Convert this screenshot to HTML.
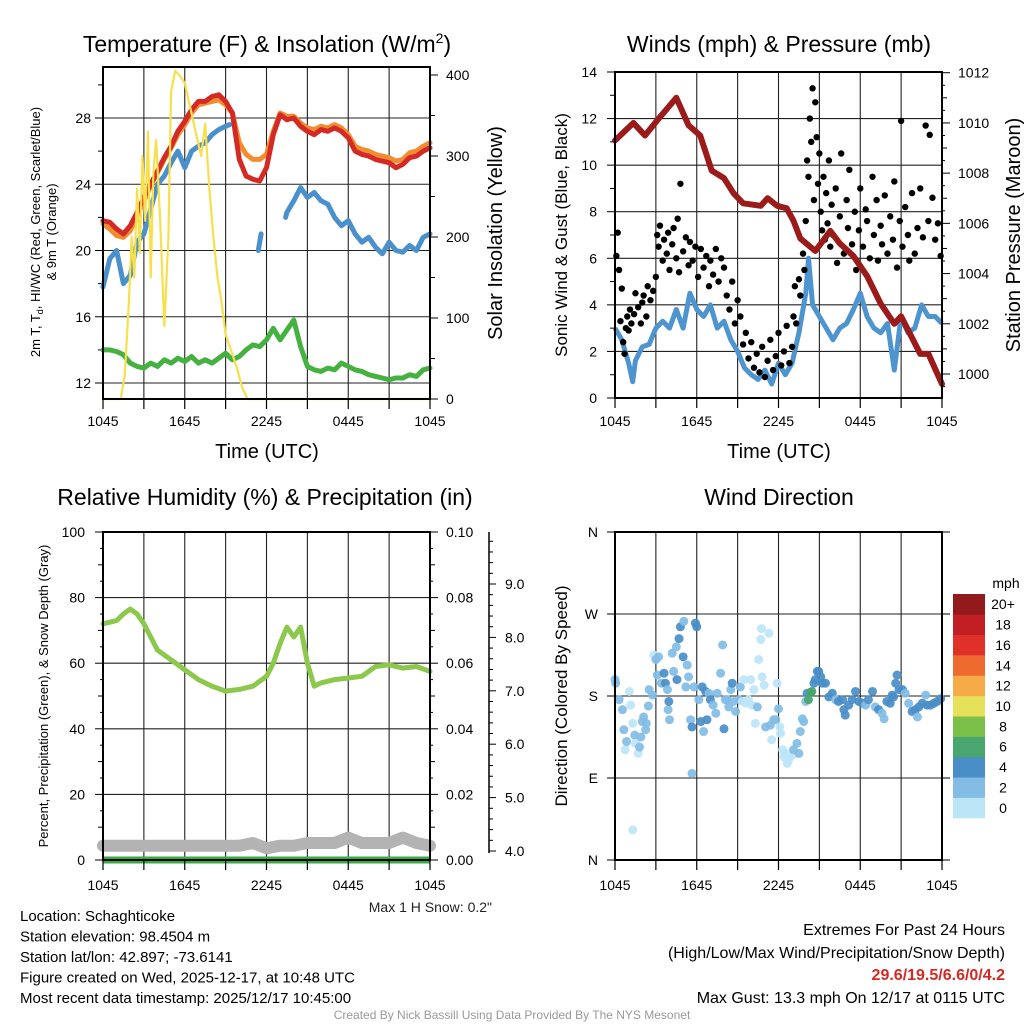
<!DOCTYPE html>
<html><head><meta charset="utf-8">
<style>
html,body{margin:0;padding:0;background:#fff;}
svg{display:block;font-family:"Liberation Sans",sans-serif;}
</style></head>
<body>
<svg id="c" width="1024" height="1024" viewBox="0 0 1024 1024" xmlns="http://www.w3.org/2000/svg"></svg>
<script>
// ---------- DATA ----------
const xTickLabels = ["1045","1645","2245","0445","1045"];
const tempHours = [0,0.5,1,1.5,2,2.5,3,3.5,4,4.5,5,5.5,6,6.5,7,7.5,8,8.5,9,9.5,10,10.5,11,11.5,12,12.5,13,13.5,14,14.5,15,15.5,16,16.5,17,17.5,18,18.5,19,19.5,20,20.5,21,21.5,22,22.5,23,23.5,24];
const tempRed = [21.8,21.7,21.3,21.0,21.5,22.3,23.2,24.0,24.8,25.6,26.3,27.2,27.8,28.5,29.0,29.0,29.3,29.4,29.0,28.3,25.5,24.5,24.3,24.2,25.0,27.0,28.2,27.9,28.0,27.5,27.2,27.0,27.3,27.2,27.4,27.2,26.8,26.0,25.8,25.7,25.5,25.4,25.3,25.0,25.2,25.6,25.7,26.0,26.2];
const tempOrange = [21.6,21.3,20.9,20.8,21.2,22.1,23.0,23.9,24.7,25.5,26.2,27.0,27.6,28.3,28.8,28.9,29.0,29.1,28.8,28.3,26.5,25.8,25.5,25.5,25.8,27.2,28.3,28.1,28.1,27.7,27.4,27.3,27.5,27.4,27.6,27.4,27.0,26.3,26.1,26.0,25.8,25.7,25.6,25.4,25.5,25.9,26.0,26.3,26.5];
const tempGreen = [14.0,14.0,13.9,13.7,13.2,13.0,12.9,13.2,13.0,13.4,13.2,13.5,13.3,13.6,13.2,13.4,13.2,13.5,13.8,13.4,13.6,14.0,14.3,14.2,14.6,15.3,14.6,15.2,15.8,14.2,13.0,12.8,12.7,12.9,12.8,13.2,13.0,12.8,12.7,12.5,12.4,12.3,12.2,12.3,12.3,12.5,12.4,12.8,12.9];
const blueHours = [0,0.5,1,1.5,2,2.5,3,3.5,4,4.5,5,5.5,6,6.5,7,7.5,8,8.5,9,9.3,null,11.4,11.6,null,13.4,13.5,14,14.5,15,15.5,16,16.5,17,17.5,18,18.5,19,19.5,20,20.5,21,21.5,22,22.5,23,23.5,24];
const blueVals = [17.8,19.5,20.0,18.0,18.5,20.5,21.0,22.5,24.0,24.5,25.3,26.0,25.0,26.0,26.3,26.5,27.0,27.3,27.5,27.6,null,20.0,21.0,null,22.0,22.3,23.0,23.8,23.2,23.5,23.0,22.8,22.0,21.5,21.8,21.0,20.5,20.8,20.2,19.8,20.5,20.0,19.9,20.3,20.0,20.8,21.0];
const solarHours = [0,1.3,1.6,1.9,2.1,2.3,2.5,2.7,2.9,3.1,3.3,3.5,3.7,3.9,4.2,4.5,4.8,5.0,5.3,5.6,6.0,6.4,6.8,7.2,7.5,7.8,8.1,8.4,8.7,9.0,9.4,9.8,10.2,10.6,24];
const solarVals = [0,0,30,120,200,150,260,180,300,220,330,150,280,320,220,90,200,380,405,400,390,360,330,300,340,260,200,150,120,80,60,40,15,0,0];

const windHours = [0,0.5,1,1.3,1.5,2,2.5,3,3.5,4,4.5,5,5.5,6,6.5,7,7.5,8,8.5,9,9.5,10,10.5,11,11.5,12,12.5,13,13.5,14,14.2,14.5,15,15.5,16,16.5,17,17.5,18,18.5,19,19.5,20,20.5,21,21.5,22,22.5,23,23.5,24];
const windVals = [3.0,2.5,1.5,0.7,1.6,2.2,2.3,3.0,3.3,3.0,3.8,3.0,4.5,3.8,3.5,4.0,3.0,3.3,2.5,2.0,1.3,1.0,0.8,1.2,0.6,1.5,1.0,1.5,2.8,4.5,6.0,4.0,3.5,3.0,2.5,3.0,3.2,3.8,4.5,3.5,3.0,2.8,3.2,1.2,3.5,2.8,3.0,4.0,3.5,3.5,3.2];
const gustHours = [
 0.1,0.2,0.3,0.4,0.5,0.6,0.7,0.8,0.9,1.0,
 1.1,1.2,1.4,1.5,1.7,1.9,2.0,2.1,2.3,2.4,
 2.6,2.8,3.0,3.1,3.2,3.3,3.5,3.6,3.8,3.9,
 4.0,4.2,4.3,4.5,4.6,4.7,4.8,5.0,5.2,5.4,
 5.5,5.7,5.9,6.1,6.3,6.5,6.7,6.9,7.0,7.2,
 7.4,7.6,7.8,8.0,8.2,8.4,8.6,8.8,9.0,9.2,
 9.4,9.6,9.8,10.0,10.2,10.4,10.6,10.8,11.0,11.2,
 11.4,11.6,11.8,12.0,12.2,12.4,12.6,12.8,13.0,13.1,
 13.2,13.3,13.5,13.6,13.8,13.9,14.0,14.1,14.2,14.3,
 14.4,14.5,14.6,14.7,14.8,14.9,15.0,15.1,15.2,15.3,
 15.4,15.5,15.6,15.7,15.8,15.9,16.0,16.2,16.3,16.5,
 16.6,16.8,17.0,17.1,17.2,17.4,17.6,17.7,17.9,18.0,
 18.2,18.4,18.5,18.7,18.9,19.0,19.2,19.3,19.5,19.6,
 19.8,20.0,20.2,20.4,20.5,20.7,20.9,21.0,21.1,21.3,
 21.5,21.6,21.8,22.0,22.2,22.4,22.6,22.8,23.0,23.1,
 23.3,23.5,23.7,23.9];
const gustVals = [
 6.1,7.1,5.5,3.3,4.7,2.4,1.9,3.0,3.5,2.9,
 3.8,3.2,3.6,4.5,3.9,3.2,4.1,4.4,3.5,4.8,
 4.2,4.6,5.2,7.0,6.5,7.4,5.9,6.8,6.2,7.1,
 5.5,6.6,7.3,6.0,7.7,5.4,9.2,6.3,6.9,5.7,
 6.7,5.9,6.5,5.2,6.4,5.6,6.1,4.8,5.9,5.3,
 6.4,5.0,6.0,5.6,4.4,3.8,5.0,3.2,4.2,3.5,
 2.3,2.8,1.7,2.4,1.3,1.9,1.1,2.2,0.9,1.6,
 2.5,1.2,1.8,2.8,1.4,2.0,3.1,1.5,2.2,3.5,
 4.8,3.2,5.1,4.4,6.2,5.5,7.6,10.2,9.5,12.0,
 11.0,13.3,8.5,12.7,11.2,9.2,10.5,8.0,7.2,9.5,
 6.8,8.8,7.5,10.2,6.5,8.3,7.0,9.0,5.8,7.8,
 10.5,6.2,8.5,7.3,9.8,6.6,8.0,5.5,7.2,9.0,
 6.5,8.1,7.6,6.0,9.5,7.0,8.5,5.9,7.4,6.6,
 8.7,6.2,7.8,6.8,9.3,5.6,7.6,11.9,6.5,8.2,
 7.0,5.9,8.8,6.2,7.3,9.0,6.9,11.7,7.6,11.3,
 8.6,6.8,7.5,6.1];
const presHours = [0,1.35,2.2,3.1,4.5,5.4,6.25,7.1,8.0,8.7,9.4,10.7,11.2,11.9,12.6,13.1,13.6,14.7,15.8,16.5,17.5,18.5,19.5,20.5,21.0,22.4,23.0,24];
const presVals = [1009.3,1010.0,1009.5,1010.1,1011.0,1009.9,1009.5,1008.1,1007.8,1007.2,1006.8,1006.7,1007.0,1006.7,1006.6,1006.1,1005.4,1004.9,1005.7,1005.2,1004.7,1003.9,1002.8,1002.0,1002.3,1000.8,1000.8,999.6];

const rhHours = [0,1,1.5,2,2.5,3,3.5,4,5,6,7,8,9,10,11,12,12.5,13,13.5,14,14.5,15,15.5,16,17,18,19,20,21,22,23,24];
const rhVals = [72,73,75,76.5,75,72,68,64,61,58,55,53,51.5,52,53,56,60,66,71,68,71,60,53,54,55,55.5,56,59,59.5,58.5,59,57.5];
const precipHours = [0,24];
const precipVals = [0,0];
const snowHours = [0,1,2,3,4,5,6,7,8,9,10,11,12,13,14,15,16,17,18,19,20,21,22,23,24];
const snowVals = [4.1,4.1,4.1,4.1,4.1,4.1,4.1,4.1,4.1,4.1,4.1,4.15,4.05,4.1,4.1,4.15,4.15,4.15,4.25,4.15,4.15,4.15,4.25,4.15,4.1];

const dirHours = [
 0.0,0.05,0.3,0.55,0.65,0.75,0.85,1.05,1.15,1.3,
 1.45,1.5,1.7,1.8,1.9,2.0,2.1,2.25,2.3,2.45,
 2.5,2.75,2.85,3.0,3.1,3.2,3.4,3.6,3.7,3.85,
 3.9,3.95,4.0,4.2,4.3,4.5,4.55,4.7,4.8,5.0,
 5.05,5.2,5.3,5.4,5.55,5.65,5.8,5.9,6.0,6.15,
 6.3,6.4,6.5,6.65,6.75,6.9,7.0,7.2,7.4,7.5,
 7.75,7.9,8.0,8.1,8.25,8.35,8.5,8.6,8.7,8.85,
 9.1,9.2,9.35,9.45,9.6,9.8,9.95,10.05,10.2,10.3,
 10.45,10.55,10.7,10.75,10.8,10.95,11.05,11.3,11.4,11.5,
 11.65,11.8,11.9,12.0,12.1,12.15,12.3,12.4,12.5,12.65,
 12.75,13.0,13.1,13.35,13.5,13.6,13.75,13.85,14.0,14.1,
 14.2,14.35,14.45,14.6,14.7,14.85,14.95,15.1,15.2,15.45,
 15.7,15.95,16.2,16.4,16.7,16.8,16.9,17.15,17.4,17.65,
 17.9,18.15,18.4,18.6,18.9,19.1,19.35,19.6,19.75,19.95,
 20.2,20.35,20.45,20.6,20.7,20.85,21.1,21.3,21.55,21.8,
 22.05,22.2,22.3,22.55,22.8,22.9,23.15,23.4,23.65,23.9,
 5.65,1.3];
const dirVals = [
 198,194,176,165,143,121,130,185,170,150,
 137,128,117,124,135,152,157,143,150,169,
 187,181,225,220,203,223,194,205,194,187,
 165,174,154,227,207,234,198,243,256,223,
 262,190,214,201,154,146,190,260,256,176,
 152,190,141,185,154,183,176,170,161,183,
 205,236,144,176,176,168,187,194,174,163,
 176,190,174,198,172,176,198,170,187,150,
 168,220,242,254,201,192,146,249,148,132,
 154,154,194,166,146,139,121,113,117,106,
 110,115,121,128,117,141,155,152,174,183,
 176,184,185,194,198,207,207,201,194,194,
 179,183,176,174,176,165,159,170,176,185,
 174,172,170,176,185,168,165,161,155,174,
 172,181,179,194,203,187,187,183,172,163,
 165,157,168,172,181,170,170,172,174,177,
 95,33];
const dirSpeeds = [
 2.5,2.5,2.5,2.5,2.5,1,2.5,1,1,1,
 2.5,1,1,2.5,2.5,2.5,2.5,2.5,2.5,2.5,
 2.5,2.5,1,2.5,2.5,2.5,2.5,4.5,4.5,2.5,
 2.5,4.5,2.5,2.5,2.5,2.5,4.5,4.5,4.5,4.5,
 2.5,2.5,2.5,2.5,2.5,4.5,2.5,4.5,4.5,2.5,
 4.5,4.5,2.5,4.5,4.5,2.5,4.5,2.5,2.5,2.5,
 2.5,2.5,4.5,2.5,2.5,2.5,2.5,4.5,2.5,2.5,
 2.5,2.5,1,1,1,1,1,1,1,1,
 2.5,1,1,1,1,1,2.5,1,2.5,1,
 2.5,2.5,1,2.5,1,1,1,1,1,1,
 1,1,2.5,2.5,2.5,2.5,2.5,2.5,2.5,4.5,
 6.5,6.5,6.5,4.5,4.5,4.5,4.5,4.5,4.5,4.5,
 4.5,4.5,2.5,4.5,4.5,4.5,4.5,4.5,4.5,4.5,
 4.5,4.5,2.5,4.5,4.5,2.5,4.5,2.5,2.5,4.5,
 4.5,4.5,4.5,4.5,4.5,4.5,4.5,2.5,2.5,4.5,
 4.5,2.5,4.5,4.5,2.5,4.5,4.5,4.5,4.5,4.5,
 2.5,1];
const cbLabels = ["0","2","4","6","8","10","12","14","16","18","20+"];
const cbColors = ["#bde5f8","#83bde6","#4a8ec8","#48a66e","#7cc049","#e6e05a","#f6aa48","#ef6a2e","#df3029","#c21f25","#921a1d"];

// ---------- HELPERS ----------
const svg = document.getElementById('c');
const NS = 'http://www.w3.org/2000/svg';
function el(tag, attrs, parent){const e=document.createElementNS(NS,tag);for(const k in attrs)e.setAttribute(k,attrs[k]);(parent||svg).appendChild(e);return e;}
function txt(x,y,s,size,anchor,extra){const t=el('text',Object.assign({x:x,y:y,'font-size':size,'text-anchor':anchor||'middle',fill:'#000'},extra||{}));t.textContent=s;return t;}
function lin(a,b,c,d,col,w){return el('line',{x1:a,y1:b,x2:c,y2:d,stroke:col||'#000','stroke-width':w||1});}
function linear(d0,d1,r0,r1){return v=>r0+(v-d0)/(d1-d0)*(r1-r0);}
function pathD(xs,ys,fx,fy){let d='',pen=false;const n=Math.min(xs.length,ys.length);for(let i=0;i<n;i++){if(xs[i]==null||ys[i]==null){pen=false;continue;}d+=(pen?'L':'M')+fx(xs[i]).toFixed(1)+','+fy(ys[i]).toFixed(1);pen=true;}return d;}

function xaxis(L,R,B,g,labelY){
  const fx=linear(0,24,L,R);
  for(let h=0;h<=24;h+=3){lin(fx(h),B,fx(h),B+10,'#000',1.2);}
  xTickLabels.forEach((s,i)=>{const t=txt(fx(i*6),labelY,s,14);
    
    });
  return fx;
}
function vgrid(L,R,T,B){const fx=linear(0,24,L,R);for(let h=3;h<24;h+=3){const l=lin(fx(h),T,fx(h),B,'#222',1.1);}}

// ================= PANEL 1: TEMPERATURE =================
{
  const L=103,R=430,T=67,B=399;
  const fx=linear(0,24,L,R), fy=linear(12,28,383,118), fs=linear(0,400,399,75);
  vgrid(L,R,T,B);
  for(let v=12;v<=28;v+=4){const l=lin(L,fy(v),R,fy(v),'#222',1.1);}
  for(let v=12;v<=30;v+=2){lin(L-(v%4==0?8:5),fy(v),L,fy(v),'#000',1);}
  for(let v=12;v<=28;v+=4){const t=txt(L-12,fy(v)+5,String(v),14,'end');}
  for(let v=0;v<=400;v+=50){lin(R,fs(v),R+(v%100==0?8:5),fs(v),'#000',1);}
  for(let v=0;v<=400;v+=100){const t=txt(R+16,fs(v)+5,String(v),14,'start');}
  const series=[[tempHours,tempGreen,'#45b140','temp-dewpoint-line',5],[blueHours,blueVals,'#4a90cc','temp-windchill-line',5],[tempHours,tempOrange,'#f28c30','temp-9m-line',5],[tempHours,tempRed,'#d42a26','temp-2m-line',5],[solarHours,solarVals,'#f7e04c','solar-line',2.2]];
  series.forEach(s=>{const fyy=s[3]=='solar-line'?fs:fy;const p=el('path',{d:pathD(s[0],s[1],fx,fyy),fill:'none',stroke:s[2],'stroke-width':s[4],'stroke-linejoin':'round','stroke-linecap':'round'});
    });
  el('rect',{x:L,y:T,width:R-L,height:B-T,fill:'none',stroke:'#000','stroke-width':2});
  xaxis(L,R,B,null,426);
  const t1=txt(267,52,'Temperature (F) & Insolation (W/m',23);const ts=el('tspan',{dy:-9,'font-size':14},t1);ts.textContent='2';const ts2=el('tspan',{dy:9},t1);ts2.textContent=')';
  
  const xl=txt(267,458,'Time (UTC)',20);
  const yl=el('text',{transform:'translate(40,232) rotate(-90)','font-size':13,'text-anchor':'middle'});
  yl.innerHTML='2m T, T<tspan font-size="9" dy="3">d</tspan><tspan dy="-3">, HI/WC (Red, Green, Scarlet/Blue)</tspan>';
  
  const yl2=txt(0,0,'& 9m T (Orange)',13,'middle',{transform:'translate(56,232) rotate(-90)'});
  
  const yr=txt(0,0,'Solar Insolation (Yellow)',20,'middle',{transform:'translate(502,233) rotate(-90)'});
  
}

// ================= PANEL 2: WINDS =================
{
  const L=615,R=942,T=72,B=398;
  const fx=linear(0,24,L,R), fy=linear(0,14,398,72), fp=linear(1000,1012,374,72.7);
  vgrid(L,R,T,B);
  for(let v=2;v<14;v+=2){const l=lin(L,fy(v),R,fy(v),'#222',1.1);}
  for(let v=0;v<=14;v+=1){lin(L-(v%2==0?8:5),fy(v),L,fy(v),'#000',1);}
  for(let v=0;v<=14;v+=2){const t=txt(L-18,fy(v)+5,String(v),14,'end');}
  for(let v=999.5;v<=1012;v+=0.5){if(fp(v)>B)continue;lin(R,fp(v),R+(v%2==0?8:(v%1==0?5:3)),fp(v),'#000',1);}
  for(let v=1000;v<=1012;v+=2){const t=txt(R+16,fp(v)+5,String(v),14,'start');}
  const wl=el('path',{d:pathD(windHours,windVals,fx,fy),fill:'none',stroke:'#4e95d0','stroke-width':5,'stroke-linejoin':'round'});
  
  const gg=el('g',{});
  const ng=Math.min(gustHours.length,gustVals.length);
  for(let i=0;i<ng;i++){const c=el('circle',{cx:fx(gustHours[i]),cy:fy(gustVals[i]),r:3.2,fill:'#000'},gg);
    }
  const pl=el('path',{d:pathD(presHours,presVals,fx,fp),fill:'none',stroke:'#9b1b1b','stroke-width':6,'stroke-linejoin':'round','stroke-linecap':'round'});
  
  el('rect',{x:L,y:T,width:R-L,height:B-T,fill:'none',stroke:'#000','stroke-width':2});
  xaxis(L,R,B,null,426);
  const t=txt(779,52,'Winds (mph) & Pressure (mb)',23);
  const xl=txt(779,458,'Time (UTC)',20);
  const yl=txt(0,0,'Sonic Wind & Gust (Blue, Black)',17,'middle',{transform:'translate(567,235) rotate(-90)'});
  const yr=txt(0,0,'Station Pressure (Maroon)',20,'middle',{transform:'translate(1020,235) rotate(-90)'});
}

// ================= PANEL 3: RH =================
{
  const L=103,R=430,T=532,B=860;
  const fx=linear(0,24,L,R), fy=linear(0,100,860,532), fpr=linear(0,0.1,860,532), fsn=linear(4,9,851,584);
  vgrid(L,R,T,B);
  for(let v=20;v<100;v+=20){const l=lin(L,fy(v),R,fy(v),'#222',1.1);}
  for(let v=0;v<=100;v+=5){lin(L-(v%20==0?8:(v%10==0?5:3)),fy(v),L,fy(v),'#000',1);}
  for(let v=0;v<=100;v+=20){const t=txt(L-18,fy(v)+5,String(v),14,'end');}
  for(let v=0;v<=0.1001;v+=0.005){const m=Math.round(v*1000);lin(R,fpr(v),R+(m%20==0?8:(m%10==0?5:3)),fpr(v),'#000',1);}
  for(let v=0;v<=0.1001;v+=0.02){const t=txt(R+16,fpr(v)+5,v.toFixed(2),14,'start');}
  lin(489,532,489,853,'#000',1.5);
  for(let v=3.8;v<=9.81;v+=0.2){const m=Math.round(v*10);const y=fsn(v);if(y<532||y>853)continue;lin(489,y,489+(m%10==0?7:4),y,'#000',1);}
  for(let v=4;v<=9;v++){const t=txt(505,fsn(v)+5,v.toFixed(1),14,'start');}
  const sn=el('path',{d:pathD(snowHours,snowVals,fx,fsn),fill:'none',stroke:'#b3b3b3','stroke-width':12,'stroke-linejoin':'round','stroke-linecap':'round'});
  
  const pr=el('path',{d:pathD(precipHours,precipVals,fx,fpr),fill:'none',stroke:'#3aaa45','stroke-width':7});
  
  const rh=el('path',{d:pathD(rhHours,rhVals,fx,fy),fill:'none',stroke:'#8cc84b','stroke-width':5,'stroke-linejoin':'round','stroke-linecap':'round'});
  
  el('rect',{x:L,y:T,width:R-L,height:B-T,fill:'none',stroke:'#000','stroke-width':2});
  xaxis(L,R,B,null,890);
  const t=txt(265,505,'Relative Humidity (%) & Precipitation (in)',23);
  const yl=txt(0,0,'Percent, Precipitation (Green), & Snow Depth (Gray)',13,'middle',{transform:'translate(48,696) rotate(-90)'});
  const ms=txt(492,912,'Max 1 H Snow: 0.2"',14,'end',{fill:'#222'});
}

// ================= PANEL 4: WIND DIRECTION =================
{
  const L=615,R=942,T=532,B=860;
  const fx=linear(0,24,L,R), fy=linear(0,360,860,532);
  const dirNames=['N','E','S','W','N'];
  vgrid(L,R,T,B);
  for(let i=1;i<4;i++){const l=lin(L,fy(i*90),R,fy(i*90),'#222',1.1);}
  dirNames.forEach((s,i)=>{lin(L-8,fy(i*90),L,fy(i*90),'#000',1);lin(R,fy(i*90),R+8,fy(i*90),'#000',1);const t=txt(598,fy(i*90)+5,s,14,'end');});
  function colorFor(s){let k=Math.min(10,Math.floor(s/2));return cbColors[k];}
  const gd=el('g',{});
  const nd=Math.min(dirHours.length,dirVals.length,dirSpeeds.length);
  for(let i=0;i<nd;i++){const c=el('circle',{cx:fx(dirHours[i]),cy:fy(dirVals[i]),r:4.5,fill:colorFor(dirSpeeds[i]),'fill-opacity':0.92},gd);
    }
  el('rect',{x:L,y:T,width:R-L,height:B-T,fill:'none',stroke:'#000','stroke-width':2});
  xaxis(L,R,B,null,890);
  const t=txt(779,505,'Wind Direction',23);
  const yl=txt(0,0,'Direction (Colored By Speed)',17,'middle',{transform:'translate(567,696) rotate(-90)'});
  const cbT=594,cbB=818,h=(cbB-cbT)/cbColors.length;
  cbColors.forEach((c,i)=>{const y=cbB-(i+1)*h;const r=el('rect',{x:953,y:y,width:32,height:h+0.3,fill:c});
    
    const l=txt(1003,y+h/2+5,cbLabels[i],14,'middle');});
  const u=txt(1006,588,'mph',14);
}

// ================= FOOTER =================
{
  const left=['Location: Schaghticoke','Station elevation: 98.4504 m','Station lat/lon: 42.897; -73.6141','Figure created on Wed, 2025-12-17, at 10:48 UTC','Most recent data timestamp: 2025/12/17 10:45:00'];
  left.forEach((s,i)=>{const t=txt(20,921+i*20.5,s,15,'start');});
  const r1=txt(1005,935,'Extremes For Past 24 Hours',16,'end');
  const r2=txt(1005,958,'(High/Low/Max Wind/Precipitation/Snow Depth)',16,'end');
  const r3=txt(1005,980,'29.6/19.5/6.6/0/4.2',16,'end',{fill:'#d42a26','font-weight':'bold'});
  const r4=txt(1005,1003,'Max Gust: 13.3 mph On 12/17 at 0115 UTC',16,'end');
  const cr=txt(512,1019,'Created By Nick Bassill Using Data Provided By The NYS Mesonet',12,'middle',{fill:'#999'});
}
</script>
</body></html>
